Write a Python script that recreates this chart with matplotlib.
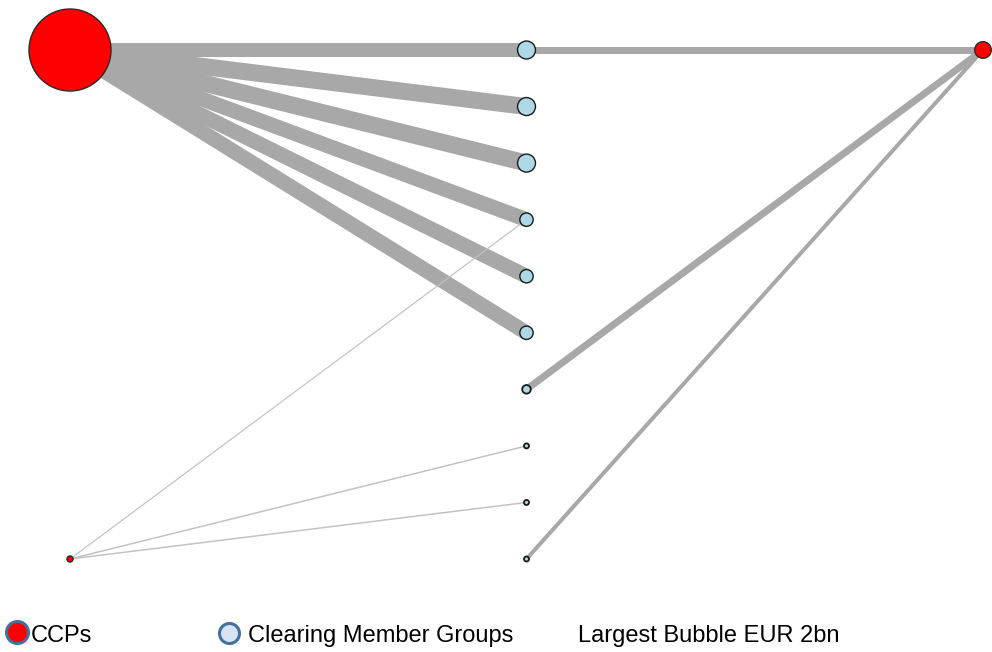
import numpy as np
import matplotlib
matplotlib.use("Agg")
import matplotlib.pyplot as plt

plt.rcParams['font.family'] = ['Liberation Sans', 'DejaVu Sans']

# -------------------------------------------------
# data
# -------------------------------------------------
# CCP nodes: layout column / row, bubble size in EUR bn
ccp_col = [0, 2, 0]
ccp_row = [0, 0, 9]
ccp_size_bn = [2.0, 0.082, 0.011]

# clearing member groups (middle column)
member_row = [0, 1, 2, 3, 4, 5, 6, 7, 8, 9]
member_size_bn = [0.096, 0.096, 0.096, 0.053, 0.053, 0.053, 0.022, 0.0075, 0.0075, 0.0075]

# edges: ccp index -> member index, relative exposure
edge_ccp = [0, 0, 0, 0, 0, 0, 1, 1, 1, 2, 2, 2]
edge_member = [0, 1, 2, 3, 4, 5, 0, 6, 9, 3, 7, 8]
edge_weight = [14, 17, 17, 15, 15, 15, 7, 7, 4, 1.2, 1.5, 1.5]

legend_labels = ["CCPs", "Clearing Member Groups", "Largest Bubble EUR 2bn"]

# -------------------------------------------------
# layout
# -------------------------------------------------
W, H = 992, 652
DPI = 100
PT = 72 / DPI                 # points per pixel

X0, X2 = 70, 983              # pixel x of column 0 / column 2
Y0, Y9 = 50, 559              # pixel y of row 0 / row 9
sx = (X2 - X0) / 2
sy = (Y9 - Y0) / 9

R_MAX = 41                    # pixel radius of the 2bn bubble
MEMBER_X = 1

def bubble_s(v):
    r = R_MAX * np.sqrt(np.asarray(v) / 2.0)
    return (2 * r * PT) ** 2

fig = plt.figure(figsize=(W / DPI, H / DPI), dpi=DPI)
ax = fig.add_axes([0, 0, 1, 1])
ax.set_xlim(-X0 / sx, (W - X0) / sx)
ax.set_ylim((H - Y0) / sy, -Y0 / sy)
ax.axis("off")

# edges
for c, m, w in zip(edge_ccp, edge_member, edge_weight):
    thin = w < 3
    ax.plot(
        [ccp_col[c], MEMBER_X],
        [ccp_row[c], member_row[m]],
        color="#c2c2c2" if thin else "#a8a8a8",
        lw=w * PT,
        solid_capstyle="butt",
        zorder=2 if thin else 1
    )

# member nodes
ms = bubble_s(member_size_bn)
ax.scatter(
    [MEMBER_X] * len(member_row),
    member_row,
    s=ms,
    c="#add8e6",
    edgecolors="#1a1a1a",
    linewidths=[1.0 if v > 0.03 else 1.3 for v in member_size_bn],
    zorder=3
)

# ccp nodes
ax.scatter(
    ccp_col,
    ccp_row,
    s=bubble_s(ccp_size_bn),
    c="#ff0000",
    edgecolors="#2a2a2a",
    linewidths=1.0,
    zorder=4
)

# -------------------------------------------------
# legend (pixel coordinates)
# -------------------------------------------------
lg = fig.add_axes([0, 0, 1, 1], zorder=5)
lg.set_xlim(0, W)
lg.set_ylim(H, 0)
lg.axis("off")
lg.patch.set_alpha(0)

lg.plot(17, 632, "o", ms=22 * PT, mfc="#ff0000", mec="#41719c", mew=2.2)
lg.plot(229, 633, "o", ms=20 * PT, mfc="#dae3f3", mec="#41719c", mew=2.2)

text_x = [31, 248, 578]
for x, t in zip(text_x, legend_labels):
    lg.text(x, 642, t, fontsize=17, ha="left", va="baseline", color="black")

fig.savefig("out.png", dpi=DPI)
